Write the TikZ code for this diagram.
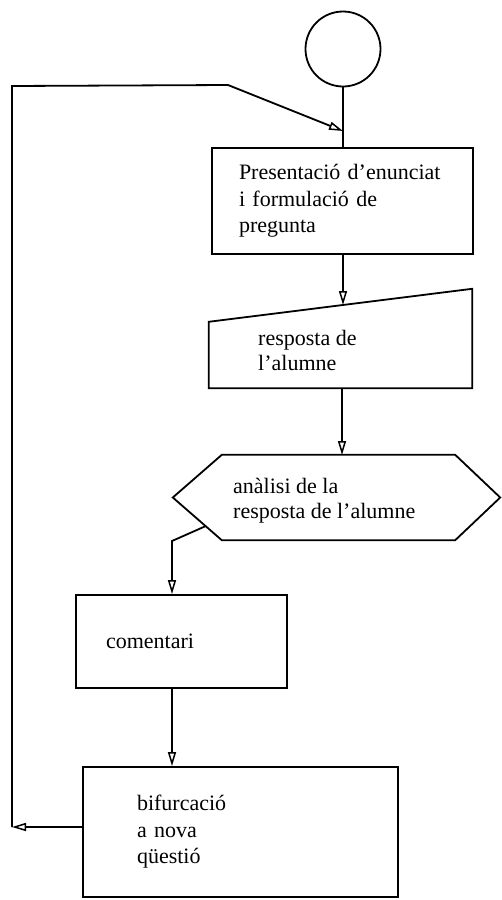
\documentclass[tikz,border=0pt]{standalone}
\usepackage{fontspec}
\setmainfont{Liberation Serif}
\usetikzlibrary{arrows.meta,calc}
\tikzset{
  ln/.style={line width=1.8pt, draw=black},
  arr/.style={ln, -{Triangle[open, length=14pt, width=8pt, line width=1.5pt]}},
  boxn/.style={ln, rectangle, align=left, inner ysep=0pt, font=\fontsize{22}{26.5}\selectfont},
  txt/.style={inner sep=0pt, align=left, anchor=west, font=\fontsize{22}{25}\selectfont},
  ghost/.style={rectangle, draw=none, inner sep=0pt},
}
\begin{document}
\begin{tikzpicture}[x=1pt, y=-1pt]
\useasboundingbox[fill=white] (0,0) rectangle (501,900);
% start circle
\node[ln, circle, minimum size=75pt, inner sep=0pt] (circ) at (343,49) {};
% box 1
\node[boxn, minimum width=261pt, minimum height=106pt, text width=207pt, inner xsep=27pt] (b1) at (342.5,201)
  {Presentació d’enunciat\\i formulació de\\pregunta};
% box 2 (manual input)
\node[ghost, minimum width=263pt, minimum height=66pt] (b2) at (340.5,355) {};
\draw[ln, line join=miter] (b2.south west) -- (b2.south east) -- ($(b2.north east)+(0,-33)$) -- (b2.north west) -- cycle;
\node[txt] (t2) at (258,350) {resposta de\\l’alumne};
\coordinate (b2in) at (343,305);
% hexagon
\node[ghost, minimum width=233pt, minimum height=85pt] (hx) at (338.5,497.5) {};
\coordinate (hxl) at ($(hx.west)+(-49,0)$);
\coordinate (hxr) at ($(hx.east)+(45,0)$);
\draw[ln, line join=miter] (hx.north west) -- (hx.north east) -- (hxr) -- (hx.south east) -- (hx.south west) -- (hxl) -- cycle;
\node[txt] (t3) at (233,501) {anàlisi de la\\resposta de l’alumne};
\coordinate (hxin) at (342,455);
\coordinate (hxo) at ($(hx.south west)!0.33!(hxl)$);
\coordinate (hxb) at (172,541);
% comentari
\node[boxn, minimum width=211pt, minimum height=93pt, text width=151pt, inner xsep=30pt] (cm) at (181.5,641.5) {comentari};
% bifurcacio
\node[boxn, minimum width=315pt, minimum height=130pt, text width=207pt, inner xsep=54pt] (bif) at (240.5,832)
  {bifurcació\\a nova\\qüestió};
% loop coordinates
\coordinate (lb) at (12,827);
\coordinate (lt) at (12,86);
\coordinate (lk) at (228,85);
\coordinate (j) at (343,131);
% connectors
\draw[ln] (circ.south) -- (b1.north -| circ.south);
\draw[arr] (b1.south -| b2in) -- (b2in);
\draw[arr] (b2.south -| hxin) -- (hxin);
\draw[arr, line join=miter] (hxo) -- (hxb) -- (hxb |- cm.north);
\draw[arr] (cm.south -| hxb) -- (bif.north -| hxb);
\draw[arr] ($(bif.west)+(0,-5)$) -- (lb);
\draw[arr, line join=miter] (lb) -- (lt) -- (lk) -- (j);
\end{tikzpicture}
\end{document}
